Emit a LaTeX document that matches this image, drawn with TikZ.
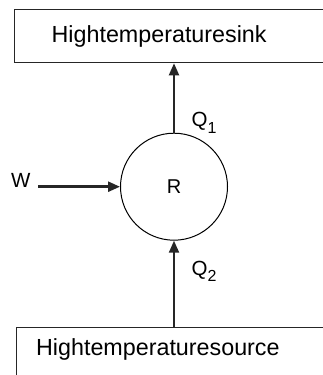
\documentclass[tikz,border=0pt]{standalone}
\usepackage{fontspec}
\setmainfont{Liberation Sans}
\usetikzlibrary{arrows.meta}
\begin{document}
\begin{tikzpicture}[x=1pt,y=-1pt,
  box/.style={draw=black!85, line width=1.3pt, anchor=north west, inner ysep=0pt, align=left,
              font=\fontsize{23.3}{28}\selectfont},
  lab/.style={font=\fontsize{20.5}{24}\selectfont, inner sep=0pt},
  arr/.style={-{Triangle[length=12pt,width=10pt]}, line width=2pt, draw=black!85}]
\useasboundingbox (0,0) rectangle (323,375);
\clip (0,0) rectangle (323,375);
\node[box, inner xsep=37pt, text width=300pt, text height=32.7pt, text depth=20.3pt] (sink) at (14,9) {Hightemperaturesink};
\node[box, inner xsep=20pt, text width=320pt, text height=28.3pt, text depth=60pt] (source) at (15.5,326.7) {Hightemperaturesource};
\node[circle, draw=black, line width=1pt, minimum size=107pt, inner sep=0pt, font=\fontsize{20}{24}\selectfont] (r) at (174,186.7) {R};
\node[lab, anchor=base west] (w) at (11,187.3) {W};
\coordinate (ws) at (38,186.7);
\draw[arr, line width=2.5pt] (ws) -- (r.west);
\draw[arr] (r.north) -- (r.north |- sink.south);
\draw[arr] (r.south |- source.north) -- (r.south);
\node[lab, anchor=base west] (q1) at (191.5,126.7) {Q\raisebox{-6.6pt}{\fontsize{16}{16}\selectfont 1}};
\node[lab, anchor=base west] (q2) at (191.5,275) {Q\raisebox{-6.6pt}{\fontsize{16}{16}\selectfont 2}};
\end{tikzpicture}
\end{document}
